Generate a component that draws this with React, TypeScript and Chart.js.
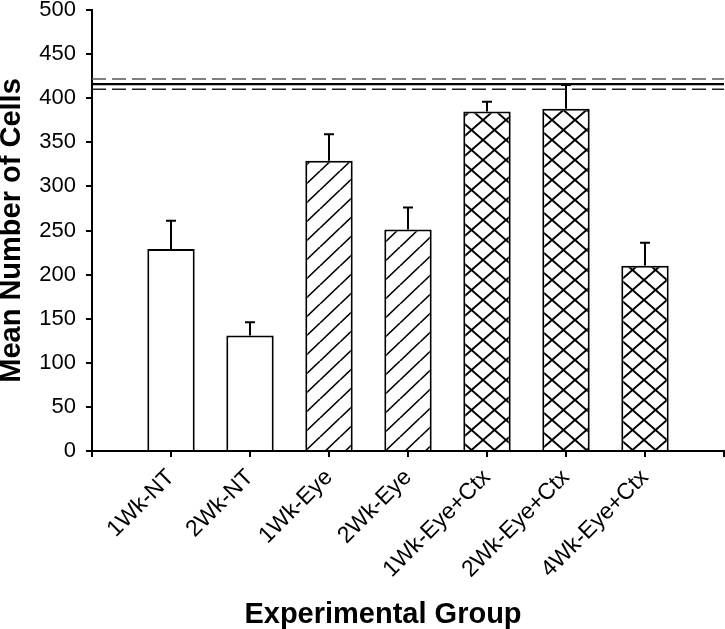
import React, { useEffect, useRef } from "react";
import { Chart, registerables } from "chart.js";

Chart.register(...registerables);

// ---- data ----
const groups = ["1Wk-NT", "2Wk-NT", "1Wk-Eye", "2Wk-Eye", "1Wk-Eye+Ctx", "2Wk-Eye+Ctx", "4Wk-Eye+Ctx"];
const meanCells = [229, 131, 329, 251, 385, 388, 210];
const errorCells = [32, 15, 30, 25, 11, 27, 26];
const fillKinds = ["open", "open", "diagonal", "diagonal", "cross", "cross", "cross"];
const yMin = 0;
const yMax = 500;
const yStep = 50;
const refMean = 416;
const refUpper = 421.8;
const refLower = 410.2;
const xTitle = "Experimental Group";
const yTitle = "Mean Number of Cells";

const FONT = "'Liberation Sans', Arial, Helvetica, sans-serif";

function makeDiagonal(): CanvasPattern | string {
  const w = 20, h = 19;
  const c = document.createElement("canvas");
  c.width = w; c.height = h;
  const g = c.getContext("2d");
  if (!g) return "#fff";
  g.fillStyle = "#fff";
  g.fillRect(0, 0, w, h);
  g.strokeStyle = "#000";
  g.lineWidth = 1.6;
  for (const dx of [-w, 0, w]) {
    g.beginPath();
    g.moveTo(dx, h);
    g.lineTo(dx + w, 0);
    g.stroke();
  }
  return g.createPattern(c, "repeat") || "#fff";
}

function makeCross(): CanvasPattern | string {
  const w = 23, h = 20;
  const c = document.createElement("canvas");
  c.width = w; c.height = h;
  const g = c.getContext("2d");
  if (!g) return "#fff";
  g.fillStyle = "#fff";
  g.fillRect(0, 0, w, h);
  g.strokeStyle = "#000";
  g.lineWidth = 2;
  for (const dx of [-w, 0, w]) {
    g.beginPath();
    g.moveTo(dx, h);
    g.lineTo(dx + w, 0);
    g.stroke();
    g.beginPath();
    g.moveTo(dx, 0);
    g.lineTo(dx + w, h);
    g.stroke();
  }
  return g.createPattern(c, "repeat") || "#fff";
}

const errorBarPlugin = {
  id: "errorBars",
  afterDatasetsDraw(chart: any) {
    const meta = chart.getDatasetMeta(0);
    const ys = chart.scales.y;
    const ctx = chart.ctx;
    ctx.save();
    ctx.strokeStyle = "#000";
    ctx.lineWidth = 2;
    meta.data.forEach((el: any, i: number) => {
      const k = i - 1;
      if (k < 0 || k >= groups.length) return;
      const top = ys.getPixelForValue(meanCells[k] + errorCells[k]);
      ctx.beginPath();
      ctx.moveTo(el.x, el.y);
      ctx.lineTo(el.x, top);
      ctx.moveTo(el.x - 5, top);
      ctx.lineTo(el.x + 5, top);
      ctx.stroke();
    });
    ctx.restore();
  },
};

const titlePlugin = {
  id: "axisTitles",
  afterDraw(chart: any) {
    const ctx = chart.ctx;
    ctx.save();
    ctx.fillStyle = "#000";
    ctx.font = `bold 29px ${FONT}`;
    ctx.textAlign = "center";
    ctx.textBaseline = "alphabetic";
    ctx.fillText(xTitle, 383, 623);
    const area = chart.chartArea;
    ctx.translate(20, (area.top + area.bottom) / 2);
    ctx.rotate(-Math.PI / 2);
    ctx.fillText(yTitle, 0, 0);
    ctx.restore();
  },
};

export default function App() {
  const ref = useRef<HTMLCanvasElement | null>(null);

  useEffect(() => {
    if (!ref.current) return;
    const diag = makeDiagonal();
    const cross = makeCross();
    const fills = fillKinds.map((k) => (k === "diagonal" ? diag : k === "cross" ? cross : "#ffffff"));
    const labels = ["", ...groups, ""];
    const barData = [null, ...meanCells, null];
    const barFills = ["#fff", ...fills, "#fff"];
    const flat = (v: number) => labels.map(() => v);

    const chart = new Chart(ref.current, {
      type: "bar",
      data: {
        labels,
        datasets: [
          {
            type: "bar",
            data: barData as any,
            backgroundColor: barFills as any,
            borderColor: "#000",
            borderWidth: 2,
            borderSkipped: "start",
            categoryPercentage: 1,
            barPercentage: 0.6,
          },
          {
            type: "line",
            data: flat(refMean),
            borderColor: "#000",
            borderWidth: 2.2,
            pointRadius: 0,
            fill: false,
          },
          {
            type: "line",
            data: flat(refUpper),
            borderColor: "#555",
            borderWidth: 1.4,
            borderDash: [14, 6],
            pointRadius: 0,
            fill: false,
          },
          {
            type: "line",
            data: flat(refLower),
            borderColor: "#222",
            borderWidth: 1.4,
            borderDash: [14, 6],
            pointRadius: 0,
            fill: false,
          },
        ] as any,
      },
      options: {
        responsive: false,
        animation: false,
        layout: { padding: { top: 10, right: 1, left: 0, bottom: 0 } },
        plugins: {
          legend: { display: false },
          tooltip: { enabled: false },
          title: { display: false },
        },
        scales: {
          x: {
            type: "category",
            offset: false,
            grid: {
              display: true,
              offset: false,
              drawOnChartArea: false,
              drawTicks: true,
              tickLength: 6,
              color: "#000",
              lineWidth: 2,
            },
            border: { display: true, color: "#000", width: 2 },
            ticks: {
              autoSkip: false,
              minRotation: 45,
              maxRotation: 45,
              padding: 7,
              color: "#000",
              font: { family: FONT, size: 23 },
            },
            afterFit(scale: any) {
              scale.height = 178;
              scale.paddingLeft = 0;
              scale.paddingRight = 0;
            },
          },
          y: {
            min: yMin,
            max: yMax,
            grid: {
              display: true,
              drawOnChartArea: false,
              drawTicks: true,
              tickLength: 6,
              color: "#000",
              lineWidth: 2,
            },
            border: { display: true, color: "#000", width: 2 },
            ticks: {
              stepSize: yStep,
              padding: 10,
              color: "#000",
              font: { family: FONT, size: 22 },
            },
            afterFit(scale: any) {
              scale.width = 92;
              scale.paddingTop = 0;
              scale.paddingBottom = 0;
            },
          },
        },
      } as any,
      plugins: [errorBarPlugin, titlePlugin],
    });
    return () => chart.destroy();
  }, []);

  return (
    <div style={{ position: "absolute", left: 0, top: 0, width: 725, height: 629, background: "#fff" }}>
      <canvas ref={ref} width={725} height={629} style={{ display: "block" }} />
    </div>
  );
}
